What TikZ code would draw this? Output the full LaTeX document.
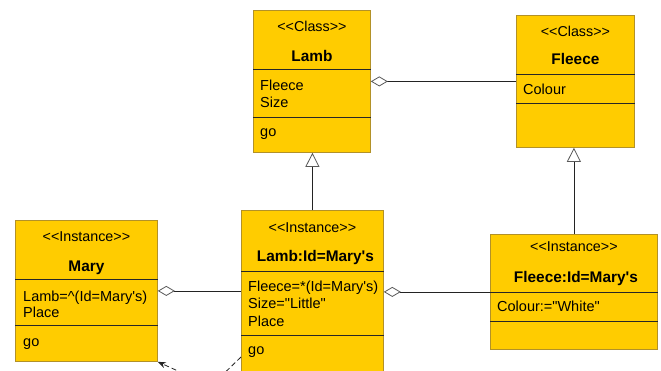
\documentclass[tikz,border=0pt]{standalone}
\usepackage{fontspec}
\setmainfont{Liberation Sans}[Ligatures=TeXOff]
\usetikzlibrary{arrows.meta}
\usetikzlibrary{calc}

\definecolor{umlyellow}{RGB}{255,204,0}
\definecolor{umledge}{RGB}{178,145,40}
\definecolor{umlline}{RGB}{35,35,35}

\tikzset{
  umlbox/.style={draw=umledge, fill=umlyellow, line width=0.8pt, anchor=north west, inner sep=0pt},
  stereo/.style={anchor=base, inner sep=0pt, font=\fontsize{14.3}{17}\selectfont},
  classname/.style={anchor=base, inner sep=0pt, font=\fontsize{15.4}{18}\selectfont\bfseries},
  member/.style={anchor=base west, inner sep=0pt, font=\fontsize{14.5}{17}\selectfont},
  divider/.style={draw=black!85, line width=1pt},
  aggregation/.style={draw=umlline, line width=0.8pt, -{Diamond[fill=white, color=black!65, length=17pt, width=10pt]}},
  generalization/.style={draw=umlline, line width=0.8pt, -{Triangle[fill=white, color=black!65, length=14pt, width=14pt]}},
  dependency/.style={draw=umlline, line width=0.8pt, dash pattern=on 5pt off 3pt, -{Stealth[length=8pt, width=6pt]}}
}

\begin{document}
\begin{tikzpicture}[x=1pt, y=-1pt]

        \useasboundingbox (0,0) rectangle (661,370);
        \clip (0,0) rectangle (661,370);

        % Classes
        \node[umlbox, minimum width=117pt, minimum height=142pt] (lamb) at (253,10) {};
        \draw[divider] ($(lamb.north west)+(0,59)$) -- ($(lamb.north east)+(0,59)$);
        \draw[divider] ($(lamb.north west)+(0,107)$) -- ($(lamb.north east)+(0,107)$);
        \node[stereo] (lambstereo) at ($(lamb.north)+(0,21)$) {<<Class>>};
        \node[classname] (lambname) at ($(lamb.north)+(0,51)$) {Lamb};
        \foreach \i/\txt/\dy in {1/Fleece/80, 2/Size/97, 3/go/126}
            \node[member] (lambattr\i) at ($(lamb.north west)+(7,\dy)$) {\txt};

        \node[umlbox, minimum width=118pt, minimum height=132pt] (fleece) at (516,15) {};
        \draw[divider] ($(fleece.north west)+(0,59)$) -- ($(fleece.north east)+(0,59)$);
        \draw[divider] ($(fleece.north west)+(0,88)$) -- ($(fleece.north east)+(0,88)$);
        \node[stereo] (fleecestereo) at ($(fleece.north)+(0,21)$) {<<Class>>};
        \node[classname] (fleecename) at ($(fleece.north)+(0,49)$) {Fleece};
        \node[member] (fleeceattr1) at ($(fleece.north west)+(7,79)$) {Colour};

        % Instances
        \node[umlbox, minimum width=142pt, minimum height=141pt] (mary) at (15,220) {};
        \draw[divider] ($(mary.north west)+(0,59)$) -- ($(mary.north east)+(0,59)$);
        \draw[divider] ($(mary.north west)+(0,105)$) -- ($(mary.north east)+(0,105)$);
        \node[stereo] (marystereo) at ($(mary.north)+(0,21)$) {<<Instance>>};
        \node[classname] (maryname) at ($(mary.north)+(0,51)$) {Mary};
        \foreach \i/\txt/\dy in {1/Lamb=\textasciicircum(Id=Mary's)/81, 2/Place/97, 3/go/126}
            \node[member] (maryattr\i) at ($(mary.north west)+(8,\dy)$) {\txt};

        \node[umlbox, minimum width=142pt, minimum height=190pt] (lambinst) at (241,210) {};
        \draw[divider] ($(lambinst.north west)+(0,61)$) -- ($(lambinst.north east)+(0,61)$);
        \draw[divider] ($(lambinst.north west)+(0,125)$) -- ($(lambinst.north east)+(0,125)$);
        \node[stereo] (lambinststereo) at ($(lambinst.north)+(0,22)$) {<<Instance>>};
        \node[classname] (lambinstname) at ($(lambinst.north)+(3,51)$) {Lamb:Id=Mary's};
        \foreach \i/\txt/\dy in {1/Fleece=*(Id=Mary's)/81, 2/Size="Little"/98, 3/Place/116, 4/go/144}
            \node[member] (lambinstattr\i) at ($(lambinst.north west)+(7,\dy)$) {\txt};

        \node[umlbox, minimum width=167pt, minimum height=115pt] (fleeceinst) at (490,234) {};
        \draw[divider] ($(fleeceinst.north west)+(0,58)$) -- ($(fleeceinst.north east)+(0,58)$);
        \draw[divider] ($(fleeceinst.north west)+(0,87)$) -- ($(fleeceinst.north east)+(0,87)$);
        \node[stereo] (fleeceinststereo) at ($(fleeceinst.north)+(0,17)$) {<<Instance>>};
        \node[classname] (fleeceinstname) at ($(fleeceinst.north)+(2,48)$) {Fleece:Id=Mary's};
        \node[member] (fleeceinstattr1) at ($(fleeceinst.north west)+(7,77)$) {Colour:="White"};

        % Connectors
        \draw[aggregation] (fleece.west) -- (lamb.east |- fleece.west);
        \draw[aggregation] (lambinst.west |- mary.east) -- (mary.east);
        \draw[aggregation] (fleeceinst.west) -- (lambinst.east |- fleeceinst.west);
        \draw[generalization] (lambinst.north) -- (lambinst.north |- lamb.south);
        \draw[generalization] (fleeceinst.north) -- (fleeceinst.north |- fleece.south);

        \coordinate (depstart) at ($(lambinst.north west)+(0,147)$);
        \coordinate (depbend) at (211,386);
        \draw[dependency] (depstart) -- (depbend) -- (mary.south east);
    \end{tikzpicture}
\end{document}
